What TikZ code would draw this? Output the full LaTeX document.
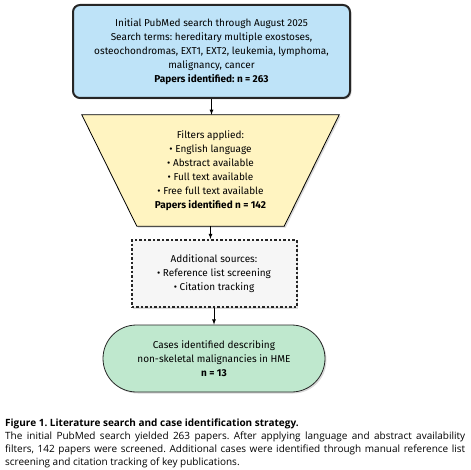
\documentclass[tikz,border=0pt]{standalone}
\usepackage{fontspec}
\setmainfont{Fira Sans}
\newfontfamily\capfont{Open Sans}
\usepackage{xcolor}
\usetikzlibrary{shapes,arrows,shadows,backgrounds}

\definecolor{boxblue}{HTML}{BEE3F8}
\definecolor{boxyellow}{HTML}{FFF4C1}
\definecolor{boxgreen}{HTML}{BFE8CE}
\definecolor{boxgray}{HTML}{F6F6F6}

\begin{document}
\frenchspacing
\begin{tikzpicture}[x=1pt, y=-1pt,
    font=\fontsize{10}{14}\selectfont,
    flow/.style={-latex, thick},
    softshadow/.style={drop shadow={shadow xshift=1.5pt, shadow yshift=-1.5pt, opacity=0.15, fill=black}}]

    \useasboundingbox (0,0) rectangle (470,470);

    % search box
    \node[draw=black!85, line width=2pt, rounded corners=7pt, fill=boxblue, softshadow,
          minimum width=277pt, minimum height=93pt, align=center] (search) at (211.5,51.5)
        {Initial PubMed search through August 2025\\
         Search terms: hereditary multiple exostoses,\\
         osteochondromas, EXT1, EXT2, leukemia, lymphoma,\\
         malignancy, cancer\\
         \textbf{Papers identified: n = 263}};

    % filters
    \node[minimum width=257pt, minimum height=111pt, align=center] (filters) at (210.5,170.5)
        {Filters applied:\\
         • English language\\
         • Abstract available\\
         • Full text available\\
         • Free full text available\\
         \textbf{Papers identified n = 142}};
    \begin{scope}[on background layer]
        \draw[thick, fill=boxyellow, softshadow] (filters.north west) -- (filters.north east)
            -- ([xshift=-55pt]filters.south east) -- ([xshift=55pt]filters.south west) -- cycle;
    \end{scope}

    % additional sources
    \node[draw=black!85, line width=2pt, dash pattern=on 2.5pt off 2pt, fill=boxgray, softshadow,
          minimum width=165pt, minimum height=67pt, align=center] (extra) at (214,273.5)
        {Additional sources:\\
         • Reference list screening\\
         • Citation tracking};

    % result
    \node[draw=black!85, thick, rounded corners=33.5pt, fill=boxgreen, softshadow,
          minimum width=222pt, minimum height=67pt, align=center] (cases) at (214,358.5)
        {Cases identified describing\\
         non-skeletal malignancies in HME\\
         \textbf{n = 13}};

    \draw[flow] (search.south) -- (search.south |- filters.north);
    \draw[flow] (filters.south) -- (filters.south |- extra.north);
    \draw[flow] (extra.south) -- (extra.south |- cases.north);

    % caption
    \node[anchor=north west, text width=460pt, align=justify, inner sep=0pt,
          font=\capfont\fontsize{10}{13.2}\selectfont] (caption) at (5,418.5)
        {\textbf{Figure 1. Literature search and case identification strategy.}\\
         The initial PubMed search yielded 263 papers. After applying language and abstract availability\linebreak
         filters, 142 papers were screened. Additional cases were identified through manual reference list\linebreak
         screening and citation tracking of key publications.};

\end{tikzpicture}
\end{document}
